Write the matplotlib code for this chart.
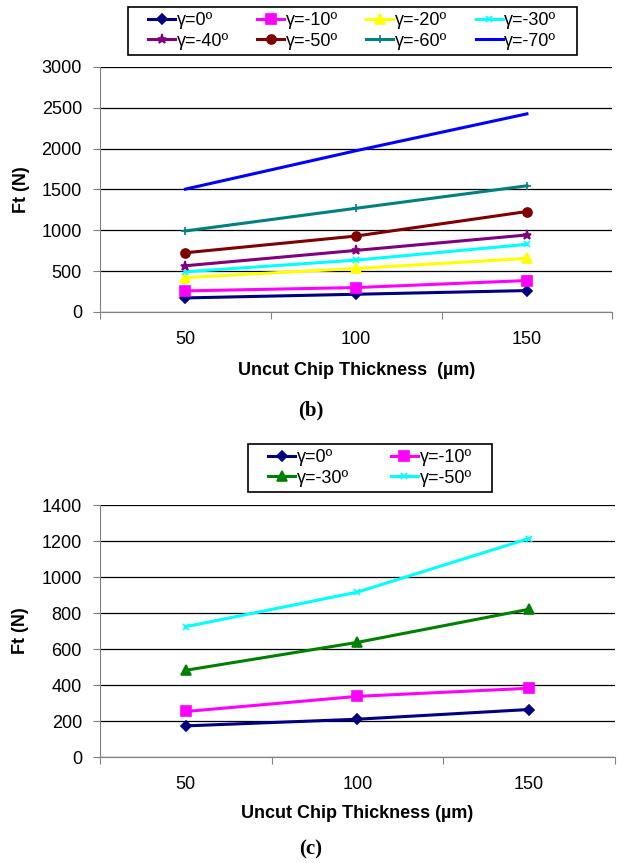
from matplotlib import pyplot as plt
from matplotlib.patches import Rectangle
import numpy as np

plt.rcParams['font.family'] = ['Liberation Sans', 'DejaVu Sans']
plt.rcParams['font.size'] = 13

thickness = [50, 100, 150]

# panel (b): rake angles 0 .. -70
labels_b = ["γ=0º", "γ=-10º", "γ=-20º", "γ=-30º",
            "γ=-40º", "γ=-50º", "γ=-60º", "γ=-70º"]
ft_b = [[172, 217, 262],
        [258, 299, 385],
        [422, 533, 656],
        [492, 635, 828],
        [566, 754, 943],
        [725, 930, 1230],
        [992, 1270, 1545],
        [1504, 1975, 2426]]
colors_b = ["#000080", "#ff00ff", "#ffff00", "#00ffff",
            "#800080", "#800000", "#008080", "#0000ff"]
markers_b = ["D", "s", "^", "x", "*", "o", "+", None]

# panel (c)
labels_c = ["γ=0º", "γ=-10º", "γ=-30º", "γ=-50º"]
ft_c = [[173, 210, 264],
        [253, 337, 382],
        [482, 637, 821],
        [724, 916, 1214]]
colors_c = ["#000080", "#ff00ff", "#008000", "#00ffff"]
markers_c = ["D", "s", "^", "x"]

msize = {"D": 5, "s": 6.5, "^": 7, "x": 5, "*": 6.5, "o": 6.5, "+": 6, None: 0}

fig = plt.figure(figsize=(6.21, 8.63), dpi=100)


def style_axes(ax, ymax, ystep):
    xpos = np.arange(1, len(thickness) + 1)
    ax.set_xlim(0.5, len(thickness) + 0.5)
    ax.set_ylim(0, ymax)
    ax.set_yticks(np.arange(0, ymax + 1, ystep))
    # category ticks sit between the groups, labels under the groups
    ax.set_xticks(np.arange(0.5, len(thickness) + 1, 1))
    ax.set_xticklabels([])
    ax.set_xticks(xpos, minor=True)
    ax.set_xticklabels([str(t) for t in thickness], minor=True)
    ax.tick_params(axis='x', which='minor', length=0, pad=14)
    ax.tick_params(axis='x', which='major', length=5, color='#808080')
    ax.tick_params(axis='y', length=5, pad=8, color='#808080')
    ax.tick_params(labelsize=13)
    for s in ['top', 'right']:
        ax.spines[s].set_visible(False)
    for s in ['left', 'bottom']:
        ax.spines[s].set_color('#808080')
    ax.yaxis.grid(True, color='black', lw=0.9)
    ax.set_axisbelow(True)
    ax.set_ylabel("Ft (N)", fontweight='bold', fontsize=13)
    return xpos


def row_order(items, ncol):
    # legend fills column by column; reorder so entries read across rows
    nrow = len(items) // ncol
    return [items[r * ncol + c] for c in range(ncol) for r in range(nrow)]


def boxed_legend(handles, ncol, center, box, colsp):
    fig.legend(handles=row_order(handles, ncol), loc='center', bbox_to_anchor=center,
               ncol=ncol, frameon=False, fontsize=13,
               handlelength=1.5, handletextpad=0.1, columnspacing=colsp,
               borderpad=0.2, labelspacing=0.2, borderaxespad=0)
    # wider frame than the legend's own padding allows
    fig.add_artist(Rectangle(box[:2], box[2], box[3], transform=fig.transFigure,
                             facecolor='white', edgecolor='black', lw=1.2, zorder=4))


# ---- (b)
ax1 = fig.add_axes([0.161, 0.6385, 0.825, 0.2839])
x = style_axes(ax1, 3000, 500)
handles = []
for vals, c, m, lab in zip(ft_b, colors_b, markers_b, labels_b):
    h, = ax1.plot(x, vals, color=c, lw=2.2, marker=m, markersize=msize[m],
                  markeredgewidth=1.2, label=lab, clip_on=False)
    handles.append(h)
ax1.set_xlabel("Uncut Chip Thickness  (µm)", fontweight='bold', fontsize=13)
ax1.xaxis.set_label_coords(0.5, -0.205)
ax1.yaxis.set_label_coords(-0.137, 0.5)
boxed_legend(handles, 4, (0.5676, 0.9641), (0.2061, 0.9363, 0.7230, 0.0556), 1.55)
fig.text(0.5, 0.524, "(b)", ha='center', va='center', fontsize=15,
         fontweight='bold', family='Liberation Serif')

# ---- (c)
ax2 = fig.add_axes([0.161, 0.1228, 0.829, 0.292])
x = style_axes(ax2, 1400, 200)
handles = []
for vals, c, m, lab in zip(ft_c, colors_c, markers_c, labels_c):
    h, = ax2.plot(x, vals, color=c, lw=2.2, marker=m, markersize=msize[m],
                  markeredgewidth=1.2, label=lab, clip_on=False)
    handles.append(h)
ax2.set_xlabel("Uncut Chip Thickness (µm)", fontweight='bold', fontsize=13)
ax2.xaxis.set_label_coords(0.5, -0.19)
ax2.yaxis.set_label_coords(-0.137, 0.5)
boxed_legend(handles, 2, (0.5958, 0.4577), (0.3994, 0.4299, 0.3929, 0.0556), 2.3)
fig.text(0.5, 0.016, "(c)", ha='center', va='center', fontsize=15,
         fontweight='bold', family='Liberation Serif')

plt.savefig('out.png', dpi=100)
